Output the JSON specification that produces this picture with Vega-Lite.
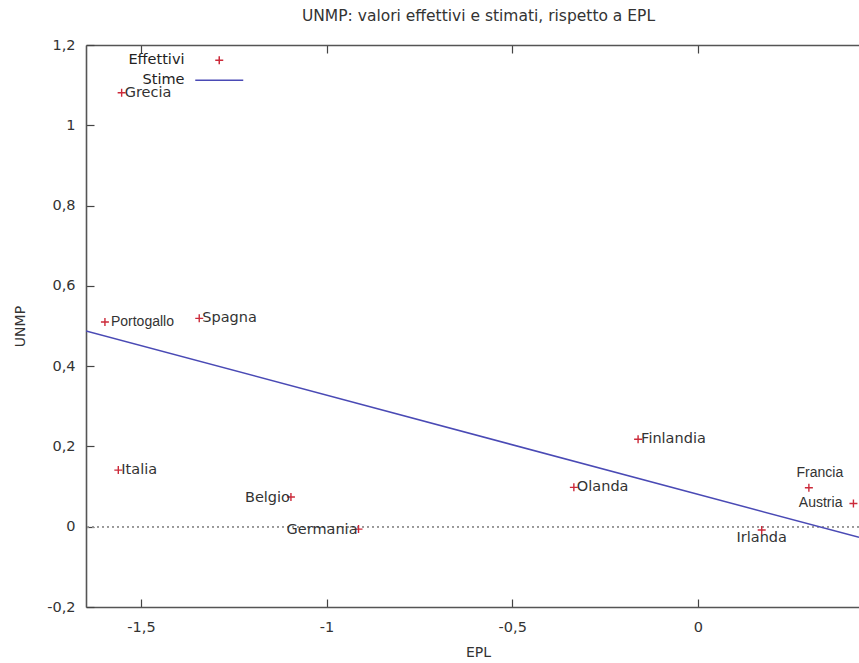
{
  "$schema": "https://vega.github.io/schema/vega-lite/v6.json",
  "width": 773,
  "height": 562,
  "autosize": {"type": "none"},
  "padding": {"left": 86, "top": 45, "right": 0, "bottom": 56},
  "background": "white",
  "title": {
    "text": "UNMP: valori effettivi e stimati, rispetto a EPL",
    "font": "DejaVu Sans",
    "fontSize": 15.5,
    "fontWeight": "normal",
    "color": "#333333",
    "anchor": "middle",
    "dx": 6,
    "offset": 13
  },
  "datasets": {
    "paesi": [
      {"paese": "Grecia", "EPL": -1.552, "UNMP": 1.081},
      {"paese": "Portogallo", "EPL": -1.597, "UNMP": 0.510},
      {"paese": "Spagna", "EPL": -1.343, "UNMP": 0.519},
      {"paese": "Italia", "EPL": -1.561, "UNMP": 0.141},
      {"paese": "Belgio", "EPL": -1.096, "UNMP": 0.074},
      {"paese": "Germania", "EPL": -0.914, "UNMP": -0.006},
      {"paese": "Olanda", "EPL": -0.334, "UNMP": 0.098},
      {"paese": "Finlandia", "EPL": -0.161, "UNMP": 0.218},
      {"paese": "Irlanda", "EPL": 0.172, "UNMP": -0.008},
      {"paese": "Francia", "EPL": 0.299, "UNMP": 0.097},
      {"paese": "Austria", "EPL": 0.419, "UNMP": 0.058}
    ]
  },
  "data": {"name": "paesi"},
  "resolve": {"axis": {"x": "independent"}},
  "layer": [
    {
      "mark": {"type": "rule", "stroke": "#999999", "strokeWidth": 1, "strokeDash": [2, 3]},
      "encoding": {
        "y": {
          "datum": 0,
          "type": "quantitative",
          "scale": {"domain": [-0.2, 1.2], "nice": false, "zero": false},
          "axis": {
            "values": [-0.2, 0, 0.2, 0.4, 0.6, 0.8, 1, 1.2],
            "labelExpr": "replace(toString(datum.value), '.', ',')",
            "title": "UNMP",
            "titleX": -66,
            "titleY": 281,
            "titleAngle": -90,
            "titleAlign": "center",
            "titleBaseline": "middle",
            "titleFont": "DejaVu Sans",
            "titleFontSize": 14,
            "titleFontWeight": "normal",
            "titleColor": "#333333",
            "labelFont": "DejaVu Sans",
            "labelFontSize": 14.5,
            "labelColor": "#333333",
            "labelPadding": 19,
            "tickSize": -8,
            "tickColor": "#444444",
            "tickWidth": 1.2,
            "domainColor": "#555555",
            "domainWidth": 1.6,
            "grid": false
          }
        }
      }
    },
    {
      "transform": [{"regression": "UNMP", "on": "EPL", "extent": [-1.648, 0.434]}],
      "mark": {"type": "line", "stroke": "#4a4ab5", "strokeWidth": 1.5, "clip": true},
      "encoding": {
        "x": {
          "field": "EPL",
          "type": "quantitative",
          "scale": {"domain": [-1.648, 0.434], "nice": false, "zero": false},
          "axis": {
            "orient": "top",
            "values": [-1.5, -1, -0.5, 0],
            "labels": false,
            "title": null,
            "tickSize": -8,
            "tickColor": "#444444",
            "tickWidth": 1.2,
            "domainColor": "#555555",
            "domainWidth": 1.6,
            "grid": false
          }
        },
        "y": {"field": "UNMP", "type": "quantitative"}
      }
    },
    {
      "mark": {"type": "point", "filled": false, "strokeWidth": 1.4, "size": 64, "opacity": 1},
      "encoding": {
        "x": {
          "field": "EPL",
          "type": "quantitative",
          "scale": {"domain": [-1.648, 0.434], "nice": false, "zero": false},
          "axis": {
            "orient": "bottom",
            "values": [-1.5, -1, -0.5, 0],
            "labelExpr": "replace(toString(datum.value), '.', ',')",
            "title": "EPL",
            "titleX": 392,
            "titleY": 45,
            "titleAlign": "center",
            "titleBaseline": "middle",
            "titleFont": "DejaVu Sans",
            "titleFontSize": 14,
            "titleFontWeight": "normal",
            "titleColor": "#333333",
            "labelFont": "DejaVu Sans",
            "labelFontSize": 14.5,
            "labelColor": "#333333",
            "labelPadding": 21,
            "tickSize": -8,
            "tickColor": "#444444",
            "tickWidth": 1.2,
            "domainColor": "#555555",
            "domainWidth": 1.6,
            "grid": false
          }
        },
        "y": {"field": "UNMP", "type": "quantitative"},
        "shape": {
          "datum": "Effettivi",
          "scale": {"domain": ["Effettivi", "Stime"], "range": ["M-1,0H1M0,-1V1", "M-6,0H6"]},
          "legend": {
            "title": null,
            "orient": "none",
            "legendX": 126,
            "legendY": 8,
            "padding": 0,
            "symbolSize": 64,
            "symbolStrokeWidth": 1.5,
            "symbolFillColor": "transparent",
            "labelFont": "DejaVu Sans",
            "labelFontSize": 14.5,
            "labelColor": "#222222",
            "labelAlign": "right",
            "labelOffset": -42,
            "rowPadding": 4
          }
        },
        "stroke": {
          "datum": "Effettivi",
          "scale": {"domain": ["Effettivi", "Stime"], "range": ["#cc2a3a", "#4a4ab5"]},
          "legend": {
            "title": null,
            "orient": "none",
            "legendX": 126,
            "legendY": 8,
            "padding": 0,
            "symbolSize": 64,
            "symbolStrokeWidth": 1.5,
            "symbolFillColor": "transparent",
            "labelFont": "DejaVu Sans",
            "labelFontSize": 14.5,
            "labelColor": "#222222",
            "labelAlign": "right",
            "labelOffset": -42,
            "rowPadding": 4
          }
        }
      }
    },
    {
      "transform": [{"filter": {"field": "paese", "oneOf": ["Grecia", "Spagna", "Italia", "Olanda", "Finlandia"]}}],
      "mark": {"type": "text", "align": "left", "baseline": "middle", "dx": 3, "font": "DejaVu Sans", "fontSize": 14.5, "fill": "#333333"},
      "encoding": {
        "x": {"field": "EPL", "type": "quantitative", "axis": null},
        "y": {"field": "UNMP", "type": "quantitative"},
        "text": {"field": "paese"}
      }
    },
    {
      "transform": [{"filter": {"field": "paese", "equal": "Portogallo"}}],
      "mark": {"type": "text", "align": "left", "baseline": "middle", "dx": 6, "font": "Liberation Sans", "fontSize": 14, "fill": "#333333"},
      "encoding": {
        "x": {"field": "EPL", "type": "quantitative", "axis": null},
        "y": {"field": "UNMP", "type": "quantitative"},
        "text": {"field": "paese"}
      }
    },
    {
      "transform": [{"filter": {"field": "paese", "oneOf": ["Belgio", "Germania"]}}],
      "mark": {"type": "text", "align": "right", "baseline": "middle", "dx": -1, "dy": 1, "font": "DejaVu Sans", "fontSize": 14.5, "fill": "#333333"},
      "encoding": {
        "x": {"field": "EPL", "type": "quantitative", "axis": null},
        "y": {"field": "UNMP", "type": "quantitative"},
        "text": {"field": "paese"}
      }
    },
    {
      "transform": [{"filter": {"field": "paese", "equal": "Austria"}}],
      "mark": {"type": "text", "align": "right", "baseline": "middle", "dx": -11, "font": "Liberation Sans", "fontSize": 14, "fill": "#333333"},
      "encoding": {
        "x": {"field": "EPL", "type": "quantitative", "axis": null},
        "y": {"field": "UNMP", "type": "quantitative"},
        "text": {"field": "paese"}
      }
    },
    {
      "transform": [{"filter": {"field": "paese", "equal": "Irlanda"}}],
      "mark": {"type": "text", "align": "center", "baseline": "middle", "dy": 8, "font": "DejaVu Sans", "fontSize": 14.5, "fill": "#333333"},
      "encoding": {
        "x": {"field": "EPL", "type": "quantitative", "axis": null},
        "y": {"field": "UNMP", "type": "quantitative"},
        "text": {"field": "paese"}
      }
    },
    {
      "transform": [{"filter": {"field": "paese", "equal": "Francia"}}],
      "mark": {"type": "text", "align": "center", "baseline": "middle", "dx": 11, "dy": -15, "font": "Liberation Sans", "fontSize": 14, "fill": "#333333"},
      "encoding": {
        "x": {"field": "EPL", "type": "quantitative", "axis": null},
        "y": {"field": "UNMP", "type": "quantitative"},
        "text": {"field": "paese"}
      }
    }
  ],
  "config": {
    "view": {"stroke": null},
    "font": "DejaVu Sans"
  }
}
